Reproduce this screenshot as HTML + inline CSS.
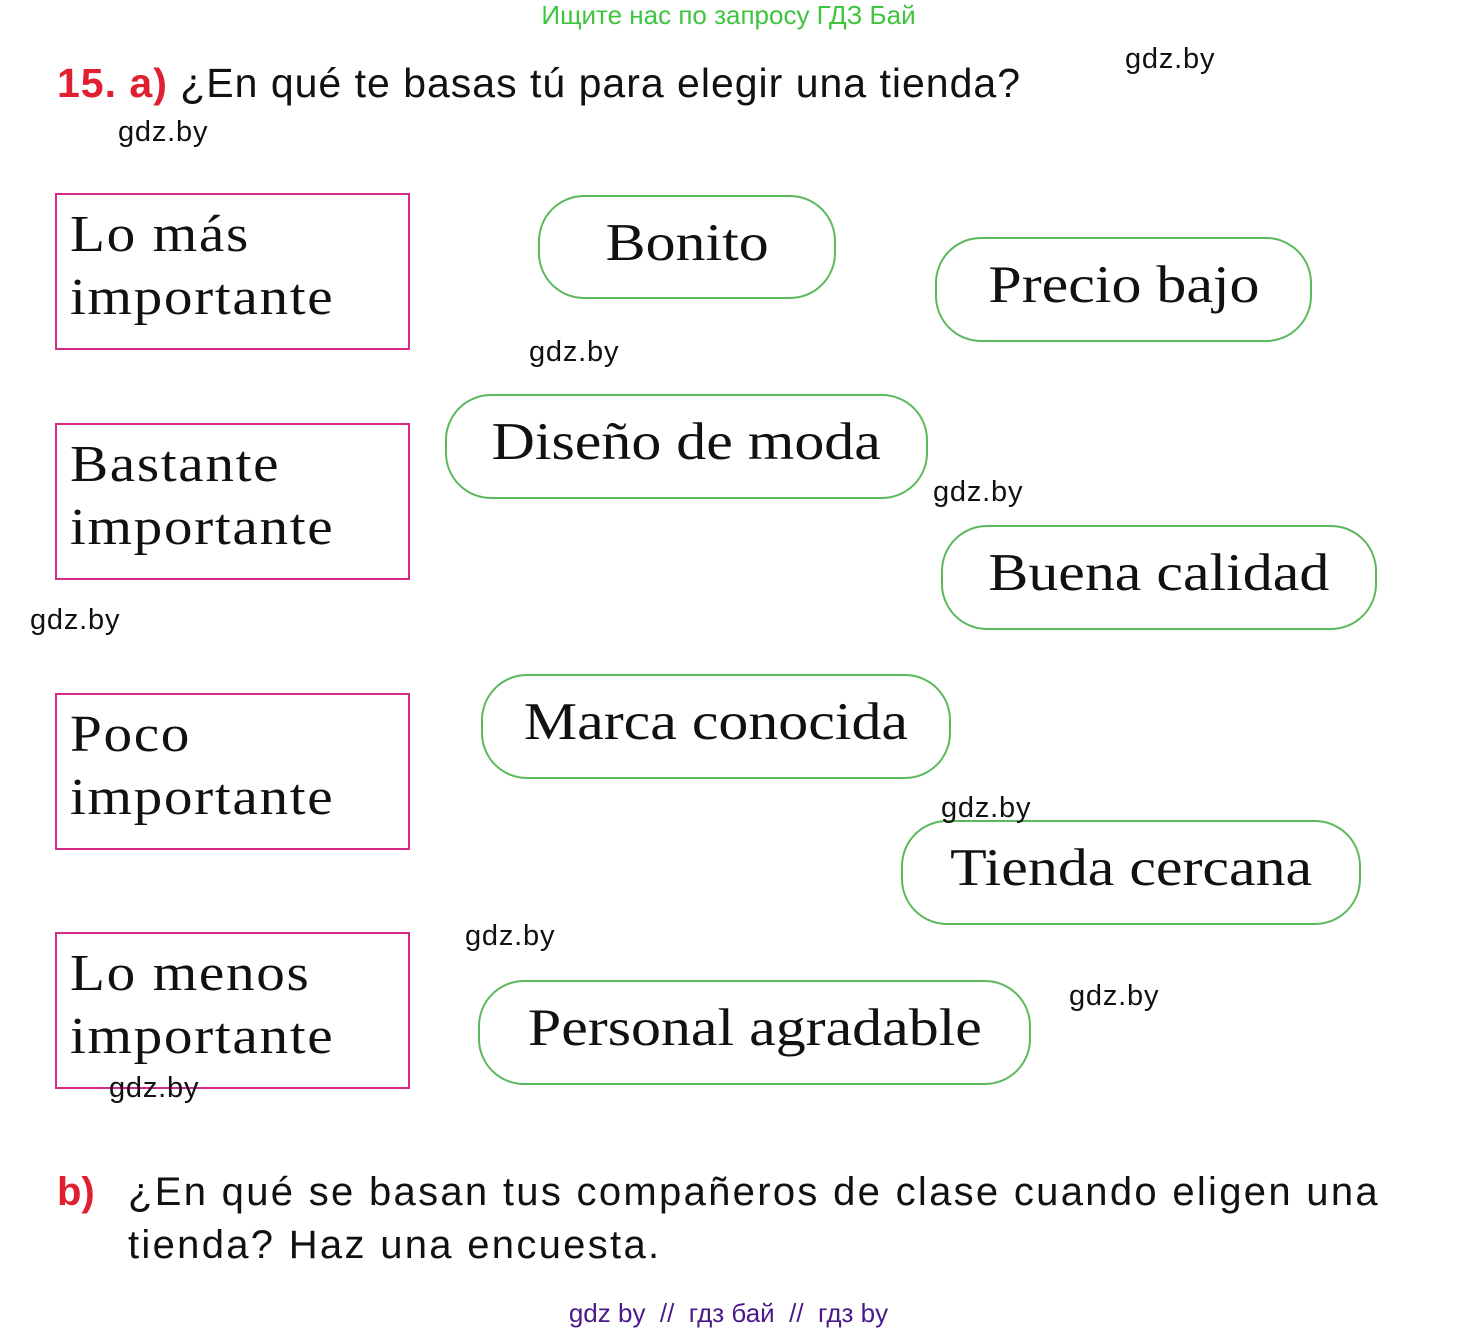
<!DOCTYPE html>
<html><head><meta charset="utf-8"><style>
body{margin:0;width:1457px;height:1333px;background:#fff;position:relative;overflow:hidden;font-family:"Liberation Sans",sans-serif;}
.a{position:absolute;white-space:nowrap;}
.box{position:absolute;border:2px solid #d42a86;box-sizing:border-box;}
.box div{position:absolute;left:13px;top:8px;font-family:"Liberation Serif",serif;font-size:52px;line-height:63px;color:#111;letter-spacing:1.5px;transform:scaleX(1.1);transform-origin:left top;white-space:nowrap;}
.pill{position:absolute;border:2px solid #5cb85c;border-radius:46px;box-sizing:border-box;font-family:"Liberation Serif",serif;font-size:53px;color:#111;text-align:center;line-height:92px;}
.pill span{display:inline-block;transform:scaleX(1.13);white-space:nowrap;}
.g{position:absolute;font-size:29px;color:#111;letter-spacing:0.8px;}
</style></head><body>
<div class="a" style="left:0;width:1457px;text-align:center;top:0;font-size:26px;color:#3ec43e;">Ищите нас по запросу ГДЗ Бай</div>
<div class="a" style="left:57px;top:60px;font-size:41px;color:#111;letter-spacing:1px;"><b style="color:#e02030">15. a)</b> ¿En qué te basas tú para elegir una tienda?</div>
<div class="box" style="left:55px;top:193px;width:355px;height:157px;"><div>Lo más<br>importante</div></div>
<div class="box" style="left:55px;top:423px;width:355px;height:157px;"><div>Bastante<br>importante</div></div>
<div class="box" style="left:55px;top:693px;width:355px;height:157px;"><div>Poco<br>importante</div></div>
<div class="box" style="left:55px;top:932px;width:355px;height:157px;"><div>Lo menos<br>importante</div></div>
<div class="pill" style="left:538px;top:195px;width:298px;height:104px;"><span>Bonito</span></div>
<div class="pill" style="left:935px;top:237px;width:377px;height:105px;"><span>Precio bajo</span></div>
<div class="pill" style="left:445px;top:394px;width:483px;height:105px;"><span>Diseño de moda</span></div>
<div class="pill" style="left:941px;top:525px;width:436px;height:105px;"><span>Buena calidad</span></div>
<div class="pill" style="left:481px;top:674px;width:470px;height:105px;"><span>Marca conocida</span></div>
<div class="pill" style="left:901px;top:820px;width:460px;height:105px;"><span>Tienda cercana</span></div>
<div class="pill" style="left:478px;top:980px;width:553px;height:105px;"><span>Personal agradable</span></div>
<div class="g" style="left:1125px;top:43px;">gdz.by</div>
<div class="g" style="left:118px;top:116px;">gdz.by</div>
<div class="g" style="left:529px;top:336px;">gdz.by</div>
<div class="g" style="left:933px;top:476px;">gdz.by</div>
<div class="g" style="left:30px;top:604px;">gdz.by</div>
<div class="g" style="left:941px;top:792px;">gdz.by</div>
<div class="g" style="left:465px;top:920px;">gdz.by</div>
<div class="g" style="left:1069px;top:980px;">gdz.by</div>
<div class="g" style="left:109px;top:1072px;">gdz.by</div>
<div class="a" style="left:57px;top:1166px;font-size:40px;line-height:53px;color:#111;"><b style="color:#e02030">b)</b></div>
<div class="a" style="left:128px;top:1166px;font-size:40px;line-height:53px;color:#111;letter-spacing:2.3px;">¿En qué se basan tus compañeros de clase cuando eligen una<br>tienda? Haz una encuesta.</div>
<div class="a" style="left:0;width:1457px;text-align:center;top:1298px;font-size:26px;color:#4a1a8a;">gdz by &nbsp;// &nbsp;гдз бай &nbsp;// &nbsp;гдз by</div>
</body></html>
